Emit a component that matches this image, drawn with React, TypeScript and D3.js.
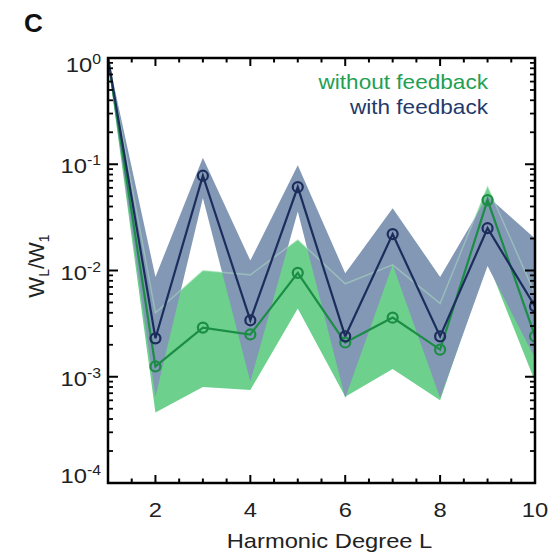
import React from "react";
import * as d3 from "d3";

const degrees = [1, 2, 3, 4, 5, 6, 7, 8, 9, 10];
const withFeedback = [1, 0.0023, 0.078, 0.0034, 0.061, 0.0024, 0.022, 0.0024, 0.025, 0.0046];
const withoutFeedback = [1, 0.00125, 0.0029, 0.0025, 0.0095, 0.0021, 0.0036, 0.0018, 0.046, 0.0024];
const withUpper = [1, 0.0087, 0.115, 0.0124, 0.098, 0.0094, 0.0385, 0.0087, 0.05, 0.02];
const withLower = [0.9, 0.00065, 0.048, 0.0009, 0.036, 0.00063, 0.0113, 0.00063, 0.011, 0.0015];
const withoutUpper = [1, 0.004, 0.01, 0.0091, 0.0195, 0.0075, 0.0113, 0.0049, 0.062, 0.006];
const withoutLower = [0.9, 0.00046, 0.0008, 0.00075, 0.0044, 0.00065, 0.00118, 0.0006, 0.012, 0.0009];
const xTickLabels = [2, 4, 6, 8, 10];
const yTickExponents = [0, -1, -2, -3, -4];
const legendLabels = ["without feedback", "with feedback"];

const W = 558;
const H = 560;
const left = 108, right = 535, top = 58, bottom = 483;
const FONT = "'Liberation Sans', Arial, Helvetica, sans-serif";
const SX = 1.13;

const NAVY = "#1c2d5c";
const NAVY_BAND = "#8298b5";
const GREEN = "#1b8d44";
const GREEN_BAND = "#6dd08d";

export default function App() {
  const x = d3.scaleLinear().domain([1, 10]).range([left, right]);
  const y = d3.scaleLog().domain([1e-4, 1]).range([bottom, top]);

  const area = (up: number[], lo: number[]) =>
    d3.area<number>()
      .x((_, i) => x(degrees[i]))
      .y0((_, i) => y(lo[i]))
      .y1((_, i) => y(up[i]))(degrees) || "";
  const line = (vals: number[]) =>
    d3.line<number>().x((_, i) => x(degrees[i])).y((_, i) => y(vals[i]))(degrees) || "";

  const xMinor = d3.range(1.5, 10, 0.5);
  const yMinor: number[] = [];
  for (let e = -4; e < 0; e++) for (let k = 2; k <= 9; k++) yMinor.push(k * Math.pow(10, e));

  const sText = (tx: number, ty: number, props: any, children: any, key?: any) => (
    <text key={key} transform={`translate(${tx},${ty}) scale(${SX},1)`} {...props}>{children}</text>
  );

  return (
    <svg width={W} height={H} style={{ position: "absolute", left: 0, top: 0, background: "#fff" }} fontFamily={FONT}>
      <defs>
        <clipPath id="plot">
          <rect x={left} y={top} width={right - left} height={bottom - top} />
        </clipPath>
      </defs>
      <text x={24} y={32} fontSize={26} fontWeight="bold" fill="#111">C</text>

      <g clipPath="url(#plot)">
        <path d={area(withoutUpper, withoutLower)} fill={GREEN_BAND} />
        <path d={area(withUpper, withLower)} fill={NAVY_BAND} />
        <path d={line(withoutUpper)} fill="none" stroke="#b5e8c4" strokeWidth={1.5} opacity={0.45} />
        <path d={line(withoutFeedback)} fill="none" stroke={GREEN} strokeWidth={2.2} />
        <path d={line(withFeedback)} fill="none" stroke={NAVY} strokeWidth={2.2} />
        {degrees.slice(1).map((d, i) => (
          <circle key={"g" + d} cx={x(d)} cy={y(withoutFeedback[i + 1])} r={5} fill="none" stroke={GREEN} strokeWidth={2.2} />
        ))}
        {degrees.slice(1).map((d, i) => (
          <circle key={"b" + d} cx={x(d)} cy={y(withFeedback[i + 1])} r={5} fill="none" stroke={NAVY} strokeWidth={2.2} />
        ))}
      </g>

      {/* axes frame */}
      <rect x={left} y={top} width={right - left} height={bottom - top} fill="none" stroke="#000" strokeWidth={2.5} />

      {/* x ticks */}
      {xMinor.map((v) => {
        const major = xTickLabels.includes(v);
        const len = major ? 8 : 4.5;
        return (
          <g key={"xt" + v}>
            <line x1={x(v)} x2={x(v)} y1={bottom} y2={bottom - len} stroke="#000" strokeWidth={2} />
            <line x1={x(v)} x2={x(v)} y1={top} y2={top + len} stroke="#000" strokeWidth={2} />
          </g>
        );
      })}
      {/* y ticks */}
      {yTickExponents.map((e) => {
        const v = Math.pow(10, e);
        return (
          <g key={"yt" + e}>
            <line x1={left} x2={left + 10} y1={y(v)} y2={y(v)} stroke="#000" strokeWidth={2} />
            <line x1={right} x2={right - 10} y1={y(v)} y2={y(v)} stroke="#000" strokeWidth={2} />
          </g>
        );
      })}
      {yMinor.map((v, i) => (
        <g key={"ym" + i}>
          <line x1={left} x2={left + 5} y1={y(v)} y2={y(v)} stroke="#000" strokeWidth={1.8} />
          <line x1={right} x2={right - 5} y1={y(v)} y2={y(v)} stroke="#000" strokeWidth={1.8} />
        </g>
      ))}

      {/* x tick labels */}
      {xTickLabels.map((v) =>
        sText(x(v), 517, { fontSize: 21, textAnchor: "middle", fill: "#222" }, String(v), "xl" + v)
      )}
      {/* y tick labels */}
      {yTickExponents.map((e) => {
        let by = y(Math.pow(10, e)) + 9;
        if (e === 0) by = 72;
        if (e === -4) by = 483;
        return sText(101, by, { fontSize: 21, textAnchor: "end", fill: "#222" }, (
          <>
            <tspan>10</tspan>
            <tspan fontSize={14} dy={-8}>{String(e)}</tspan>
          </>
        ), "yl" + e);
      })}

      {/* axis titles */}
      {sText((left + right) / 2 + 8, 548, { fontSize: 21, textAnchor: "middle", fill: "#222" }, "Harmonic Degree L")}
      <text transform="translate(44,266) rotate(-90)" fontSize={22} textAnchor="middle" fill="#222">
        <tspan>W</tspan>
        <tspan fontSize={14} dy={5}>L</tspan>
        <tspan dy={-5}>/W</tspan>
        <tspan fontSize={14} dy={5}>1</tspan>
      </text>

      {/* legend */}
      {sText(488, 89, { fontSize: 20, textAnchor: "end", fill: "#22a052" }, legendLabels[0], "lg0")}
      {sText(488, 114, { fontSize: 20, textAnchor: "end", fill: "#1f3a6b" }, legendLabels[1], "lg1")}
    </svg>
  );
}
